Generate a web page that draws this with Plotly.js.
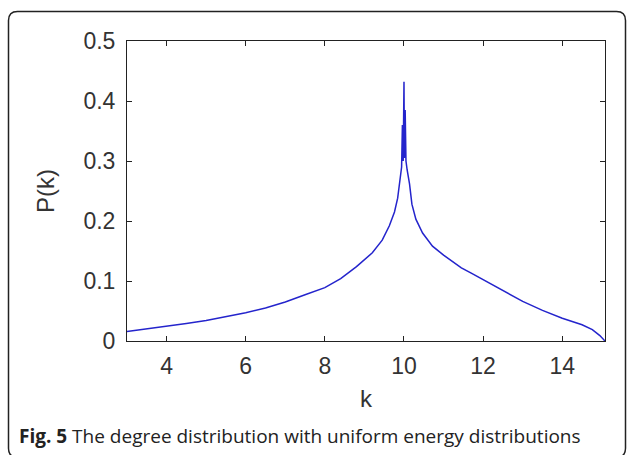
<!DOCTYPE html>
<html>
<head>
<meta charset="utf-8">
<script src="https://cdn.plot.ly/plotly-3.0.1.min.js"></script>
<style>html,body{margin:0;padding:0;background:#fff;}#chart{width:630px;height:455px;}</style>
</head>
<body>
<div id="chart"></div>
<script>
// Degree k and distribution P(k)
const k = [3.0,3.5,4.0,4.5,5.0,5.5,6.0,6.5,7.0,7.5,8.0,8.4,8.8,9.2,9.45,9.63,9.76,9.84,9.88,9.92,9.94,9.96,9.98,10.0,10.01,10.03,10.05,10.08,10.14,10.2,10.3,10.47,10.72,11.0,11.23,11.45,11.7,12.0,12.5,13.0,13.5,14.0,14.5,14.76,14.95,15.08];
const P = [0.016,0.020,0.024,0.029,0.034,0.040,0.047,0.055,0.065,0.077,0.089,0.104,0.124,0.147,0.168,0.192,0.215,0.238,0.262,0.285,0.29,0.36,0.30,0.432,0.305,0.385,0.30,0.285,0.262,0.228,0.203,0.180,0.158,0.143,0.133,0.122,0.113,0.102,0.084,0.066,0.051,0.038,0.027,0.019,0.009,0.0];
const xTicks = [4,6,8,10,12,14];
const yTicks = [0,0.1,0.2,0.3,0.4,0.5];
const yTickText = ["0","0.1","0.2","0.3","0.4","0.5"];
const xTitle = "k";
const yTitle = "P(k)";
const caption = "<b>Fig. 5</b> The degree distribution with uniform energy distributions";

// layout geometry (pixels)
const W = 630, H = 455;
const M = {l:127, r:25, t:41, b:113.5};
const pw = W - M.l - M.r, ph = H - M.t - M.b;
const px = x => (x - M.l) / pw;
const py = y => (H - M.b - y) / ph;

// rounded outer frame
function frame(x0, y0, x1, y1, r) {
  const rx = r / pw, ry = r / ph;
  const X0 = px(x0), X1 = px(x1), Y0 = py(y0), Y1 = py(y1);
  return `M ${X0+rx},${Y0} L ${X1-rx},${Y0} Q ${X1},${Y0} ${X1},${Y0-ry} ` +
         `L ${X1},${Y1+ry} Q ${X1},${Y1} ${X1-rx},${Y1} L ${X0+rx},${Y1} ` +
         `Q ${X0},${Y1} ${X0},${Y1+ry} L ${X0},${Y0-ry} Q ${X0},${Y0} ${X0+rx},${Y0} Z`;
}

const tickFont = {family: "Liberation Sans, Arial, sans-serif", size: 23, color: "#333"};
const titleFont = {family: "Liberation Sans, Arial, sans-serif", size: 24, color: "#333"};

const data = [{
  x: k, y: P, type: "scatter", mode: "lines",
  line: {color: "#2424cc", width: 1.5},
  hoverinfo: "skip"
}];

const layout = {
  width: W, height: H,
  margin: M,
  paper_bgcolor: "#fff", plot_bgcolor: "#fff",
  showlegend: false,
  xaxis: {
    range: [3, 15.08], tickvals: xTicks, ticktext: xTicks.map(String),
    ticks: "inside", ticklen: 5, tickcolor: "#222", tickwidth: 1,
    showline: true, linecolor: "#222", linewidth: 1, mirror: "ticks",
    showgrid: false, zeroline: false, tickfont: tickFont,
    ticklabelstandoff: 4,
    title: {text: xTitle, font: titleFont, standoff: 12}
  },
  yaxis: {
    range: [0, 0.5], tickvals: yTicks, ticktext: yTickText,
    ticks: "inside", ticklen: 5, tickcolor: "#222", tickwidth: 1,
    showline: true, linecolor: "#222", linewidth: 1, mirror: "ticks",
    showgrid: false, zeroline: false, tickfont: tickFont,
    ticklabelstandoff: 6,
    title: {text: yTitle, font: titleFont, standoff: 22}
  },
  shapes: [{
    type: "path", xref: "paper", yref: "paper",
    path: frame(8.5, 11.5, 625.5, 458, 9),
    line: {color: "#222", width: 1.5}, fillcolor: "rgba(0,0,0,0)", layer: "below"
  }],
  annotations: [{
    xref: "paper", yref: "paper", x: px(17), y: py(437),
    xanchor: "left", yanchor: "middle", showarrow: false,
    text: caption,
    font: {family: "Open Sans, Noto Sans, sans-serif", size: 19, color: "#222"}
  }]
};

Plotly.newPlot("chart", data, layout, {displayModeBar: false, staticPlot: true});
</script>
</body>
</html>
